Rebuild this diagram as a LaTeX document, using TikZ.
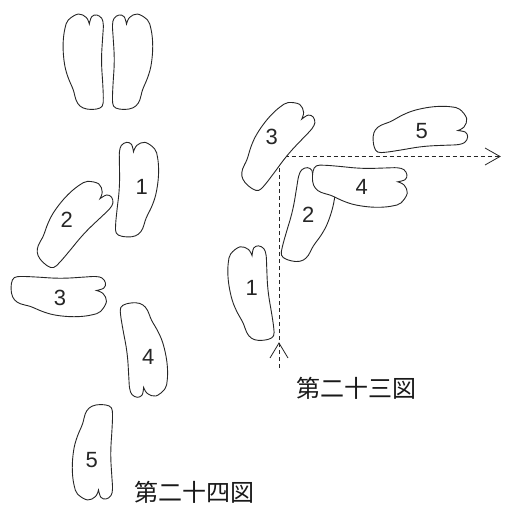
\documentclass[tikz,border=0pt]{standalone}
\usepackage{fontspec}
\setmainfont{Liberation Sans}
\newfontfamily\jpfont{Noto Sans CJK JP}
\usepackage{tikz}
\usetikzlibrary{math}
\tikzstyle{sole} = [draw=black!85, line width=0.9pt, fill=white]
\tikzstyle{num} = [inner sep=0pt, text=black!85, font=\fontsize{22}{26}\selectfont]
\tikzstyle{caption} = [inner sep=0pt, text=black!90, font=\jpfont\fontsize{24}{28}\selectfont]
\tikzstyle{walk} = [dash pattern=on 4pt off 3pt, line width=0.8pt, draw=black!85]
\tikzstyle{barb} = [line width=0.8pt, draw=black!85]
\tikzstyle{rightfoot} = [xscale=-1]

% one sole, toes up, big toe on the right (left foot)
\tikzset{
  foot/.pic={
    \path[sole] plot[smooth, tension=0.6] coordinates {
      (6,-37.5) (3,-44) (-5,-47.5) (-15,-41.5) (-18.3,-33.2) (-20,-21.5)
      (-20,-8.5) (-18.3,5.2) (-15,16.5) (-10,28.5) (-7.3,38.5) (-3.3,44.5)
      (3.4,47.5) (13.4,47.5) (19,44.5) (20,36.5) (19.4,21.5) (18.4,5.2)
      (18.4,-8.5) (19.4,-24.8) (20,-36.5) (18.4,-43.2) (13.4,-46.5)
      (8.4,-44.8) (6,-37.5)} -- cycle;
  }
}

\begin{document}
\begin{tikzpicture}[x=1pt, y=-1pt]

  \useasboundingbox (0,0) rectangle (506,510);

  \tikzmath{\lx = 279; \ly = 156.5;}

  % standing pair
  \pic at (83.3,61.5) {foot};
  \pic[rightfoot] at (132.5,61.5) {foot};

  % fig 24
  \pic[rotate=-3, rightfoot] at (137.5,189.5) {foot};
  \pic[rotate=-43] at (70,222) {foot};
  \pic[rotate=-90, rightfoot] at (59,296.5) {foot};
  \pic[rotate=187] at (145,349.5) {foot};
  \pic[rotate=180, rightfoot] at (92.5,452.5) {foot};

  \node[num] (a1) at (141.7,186.7) {1};
  \node[num] (a2) at (66.7,220) {2};
  \node[num] (a3) at (60,298.3) {3};
  \node[num] (a4) at (148.3,356.7) {4};
  \node[num] (a5) at (91.7,460) {5};
  \node[caption] (capA) at (194,492.5) {第二十四図};

  % fig 23: walking line
  \coordinate (start) at (\lx,368);
  \coordinate (corner) at (\lx,\ly);
  \coordinate (goal) at (500,\ly);
  \draw[walk] (start) -- (corner) -- (goal);
  \draw[barb] (goal) ++(-15,-8.5) -- (goal) -- ++(-15,8.5);
  \draw[barb] (start) ++(-9,-10) -- ++(9,-15) -- ++(9,15);

  \pic[rotate=6] at (250,293.5) {foot};
  \pic[rotate=-13, rightfoot] at (310,216) {foot};
  \pic[rotate=-40] at (273,144) {foot};
  \pic[rotate=-92, rightfoot] at (360,186.5) {foot};
  \pic[rotate=-84] at (420,128.5) {foot};

  \node[num] (b1) at (251.7,288.3) {1};
  \node[num] (b2) at (308.3,215) {2};
  \node[num] (b3) at (271.7,136.7) {3};
  \node[num] (b4) at (361.7,186.7) {4};
  \node[num] (b5) at (421.7,130.7) {5};
  \node[caption] (capB) at (356.5,388) {第二十三図};

\end{tikzpicture}
\end{document}
